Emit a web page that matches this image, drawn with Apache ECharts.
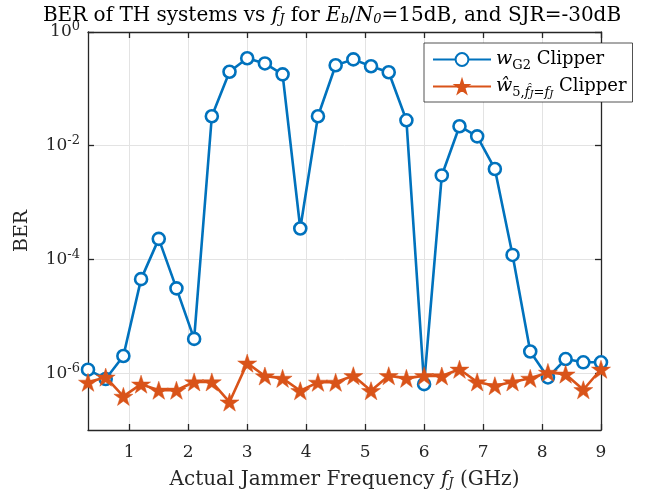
<!DOCTYPE html>
<html>
<head>
<meta charset="utf-8">
<script src="https://cdn.jsdelivr.net/npm/echarts@6/dist/echarts.min.js"></script>
<style>html,body{margin:0;padding:0;background:#fff}#c{width:667px;height:496px}</style>
</head>
<body>
<div id="c"></div>
<script>
// Jammer frequency (GHz)
const freqs = [0.3,0.6,0.9,1.2,1.5,1.8,2.1,2.4,2.7,3.0,3.3,3.6,3.9,4.2,4.5,4.8,5.1,5.4,5.7,6.0,6.3,6.6,6.9,7.2,7.5,7.8,8.1,8.4,8.7,9.0];
// BER, w_G2 clipper
const berG2 = [1.15e-6,7.9e-7,2e-6,4.5e-5,2.3e-4,3.1e-5,4e-6,0.033,0.2,0.345,0.28,0.18,3.5e-4,0.033,0.26,0.33,0.25,0.196,0.028,6.4e-7,0.003,0.022,0.0146,0.0039,1.2e-4,2.4e-6,8.4e-7,1.77e-6,1.55e-6,1.55e-6];
// BER, w_5 clipper with estimated f_J
const berW5 = [6.9e-7,8.5e-7,3.9e-7,6.4e-7,5e-7,5e-7,7e-7,7e-7,3.1e-7,1.5e-6,8.9e-7,8.1e-7,4.9e-7,6.9e-7,6.9e-7,9e-7,4.9e-7,9e-7,8.1e-7,9e-7,8.9e-7,1.17e-6,7e-7,6e-7,7e-7,8.1e-7,1.03e-6,9.6e-7,5.1e-7,1.17e-6];
const xTicks = [1,2,3,4,5,6,7,8,9];
const yTicks = [1e-6,1e-4,1e-2,1];

const FONT = 'DejaVu Serif';
const AX = '#262626';
const GRID = '#e3e3e3';
const BLUE = '#0072BD';
const RED = '#D95319';
const STAR = 'path://M50,0L61.2,34.5L97.6,34.5L68.2,55.9L79.4,90.5L50,69.1L20.6,90.5L31.8,55.9L2.4,34.5L38.8,34.5Z';

function expLabel(v){
  const e = Math.round(Math.log10(v));
  return '{b|10}{sup|' + (e === 0 ? '0' : String(e)) + '}';
}

const chart = echarts.init(document.getElementById('c'), null, {renderer:'canvas'});
const baseX = {
  type:'value', min:0.3, max:9,
  axisLine:{show:true, onZero:false, lineStyle:{color:AX, width:1.3}},
  axisTick:{show:true, inside:true, length:6, customValues:xTicks, lineStyle:{color:AX, width:1.3}},
  splitLine:{show:false}
};
const baseY = {
  type:'log', logBase:10, min:1e-7, max:1,
  axisLine:{show:true, onZero:false, lineStyle:{color:AX, width:1.3}},
  axisTick:{show:true, inside:true, length:6, customValues:yTicks, lineStyle:{color:AX, width:1.3}},
  splitLine:{show:false}
};
chart.setOption({
  backgroundColor:'#fff',
  animation:false,
  title:{
    text:'BER of TH systems vs {i|f}{sub|J} for {i|E}{sub|b}/{i|N}{sub|0}=15dB, and SJR=-30dB',
    left:327, textAlign:'center', top:1,
    textStyle:{
      fontFamily:FONT, fontSize:20, fontWeight:'normal', color:'#000',
      rich:{
        i:{fontFamily:FONT, fontStyle:'italic', fontSize:20, color:'#000'},
        sub:{fontFamily:FONT, fontStyle:'italic', fontSize:13, color:'#000', verticalAlign:'bottom', padding:[6,0,0,0]}
      }
    }
  },
  legend:{
    left:424, top:43, orient:'vertical',
    padding:[4,6,3,8], itemGap:2,
    itemWidth:58, itemHeight:16,
    backgroundColor:'#fff', borderColor:AX, borderWidth:0.8, borderRadius:0,
    data:['wG2','w5'],
    formatter:function(name){
      if(name==='wG2') return '{i|w}{sub|G2} Clipper';
      return '{i|ŵ}{sub|5,}{subi|f̂}{ss|J}{sub|=}{subi|f}{ss|J} Clipper';
    },
    textStyle:{
      fontFamily:FONT, fontSize:18, color:'#000', lineHeight:25,
      rich:{
        i:{fontFamily:FONT, fontStyle:'italic', fontSize:19, color:'#000'},
        sub:{fontFamily:FONT, fontSize:13, color:'#000', verticalAlign:'bottom', padding:[8,0,0,0]},
        subi:{fontFamily:FONT, fontStyle:'italic', fontSize:13, color:'#000', verticalAlign:'bottom', padding:[8,0,0,0]},
        ss:{fontFamily:FONT, fontStyle:'italic', fontSize:10, color:'#000', verticalAlign:'bottom', padding:[12,0,0,0]}
      }
    }
  },
  grid:{left:88, right:66, top:32, bottom:66, containLabel:false},
  xAxis:[
    Object.assign({}, baseX, {
      position:'bottom',
      name:'Actual Jammer Frequency {i|f}{sub|J} (GHz)', nameLocation:'middle', nameGap:40,
      nameTextStyle:{fontFamily:FONT, fontSize:20, color:'#262626',
        rich:{i:{fontFamily:FONT, fontStyle:'italic', fontSize:20, color:'#262626'},
              sub:{fontFamily:FONT, fontStyle:'italic', fontSize:13, color:'#262626', verticalAlign:'bottom', padding:[6,0,0,0]}}},
      axisLabel:{show:true, customValues:xTicks, margin:14, fontFamily:FONT, fontSize:17, color:'#262626'},
      splitLine:{show:true, lineStyle:{color:GRID, width:1}}
    }),
    Object.assign({}, baseX, {position:'top', axisLabel:{show:false}})
  ],
  yAxis:[
    Object.assign({}, baseY, {
      position:'left',
      name:'BER', nameLocation:'middle', nameGap:56, nameRotate:90,
      nameTextStyle:{fontFamily:FONT, fontSize:19, color:'#262626'},
      axisLabel:{show:true, customValues:yTicks, margin:8, formatter:expLabel,
        rich:{
          b:{fontFamily:FONT, fontSize:17, color:'#262626', lineHeight:22},
          sup:{fontFamily:FONT, fontSize:13, color:'#262626', verticalAlign:'top', padding:[0,0,10,0]}
        }},
      splitLine:{show:true, lineStyle:{color:GRID, width:1}}
    }),
    Object.assign({}, baseY, {position:'right', axisLabel:{show:false}})
  ],
  series:[
    {
      name:'wG2', type:'line', xAxisIndex:0, yAxisIndex:0,
      data:freqs.map((f,i)=>[f, berG2[i]]),
      symbol:'circle', symbolSize:12, showSymbol:true,
      lineStyle:{color:BLUE, width:2.6},
      itemStyle:{color:'#fff', borderColor:BLUE, borderWidth:2.6},
      z:3
    },
    {
      name:'w5', type:'line', xAxisIndex:0, yAxisIndex:0,
      data:freqs.map((f,i)=>[f, berW5[i]]),
      symbol:STAR, symbolSize:19, symbolKeepAspect:true, showSymbol:true,
      lineStyle:{color:RED, width:2.6},
      itemStyle:{color:RED, borderColor:RED, borderWidth:0.5},
      z:4
    }
  ]
});
</script>
</body>
</html>
